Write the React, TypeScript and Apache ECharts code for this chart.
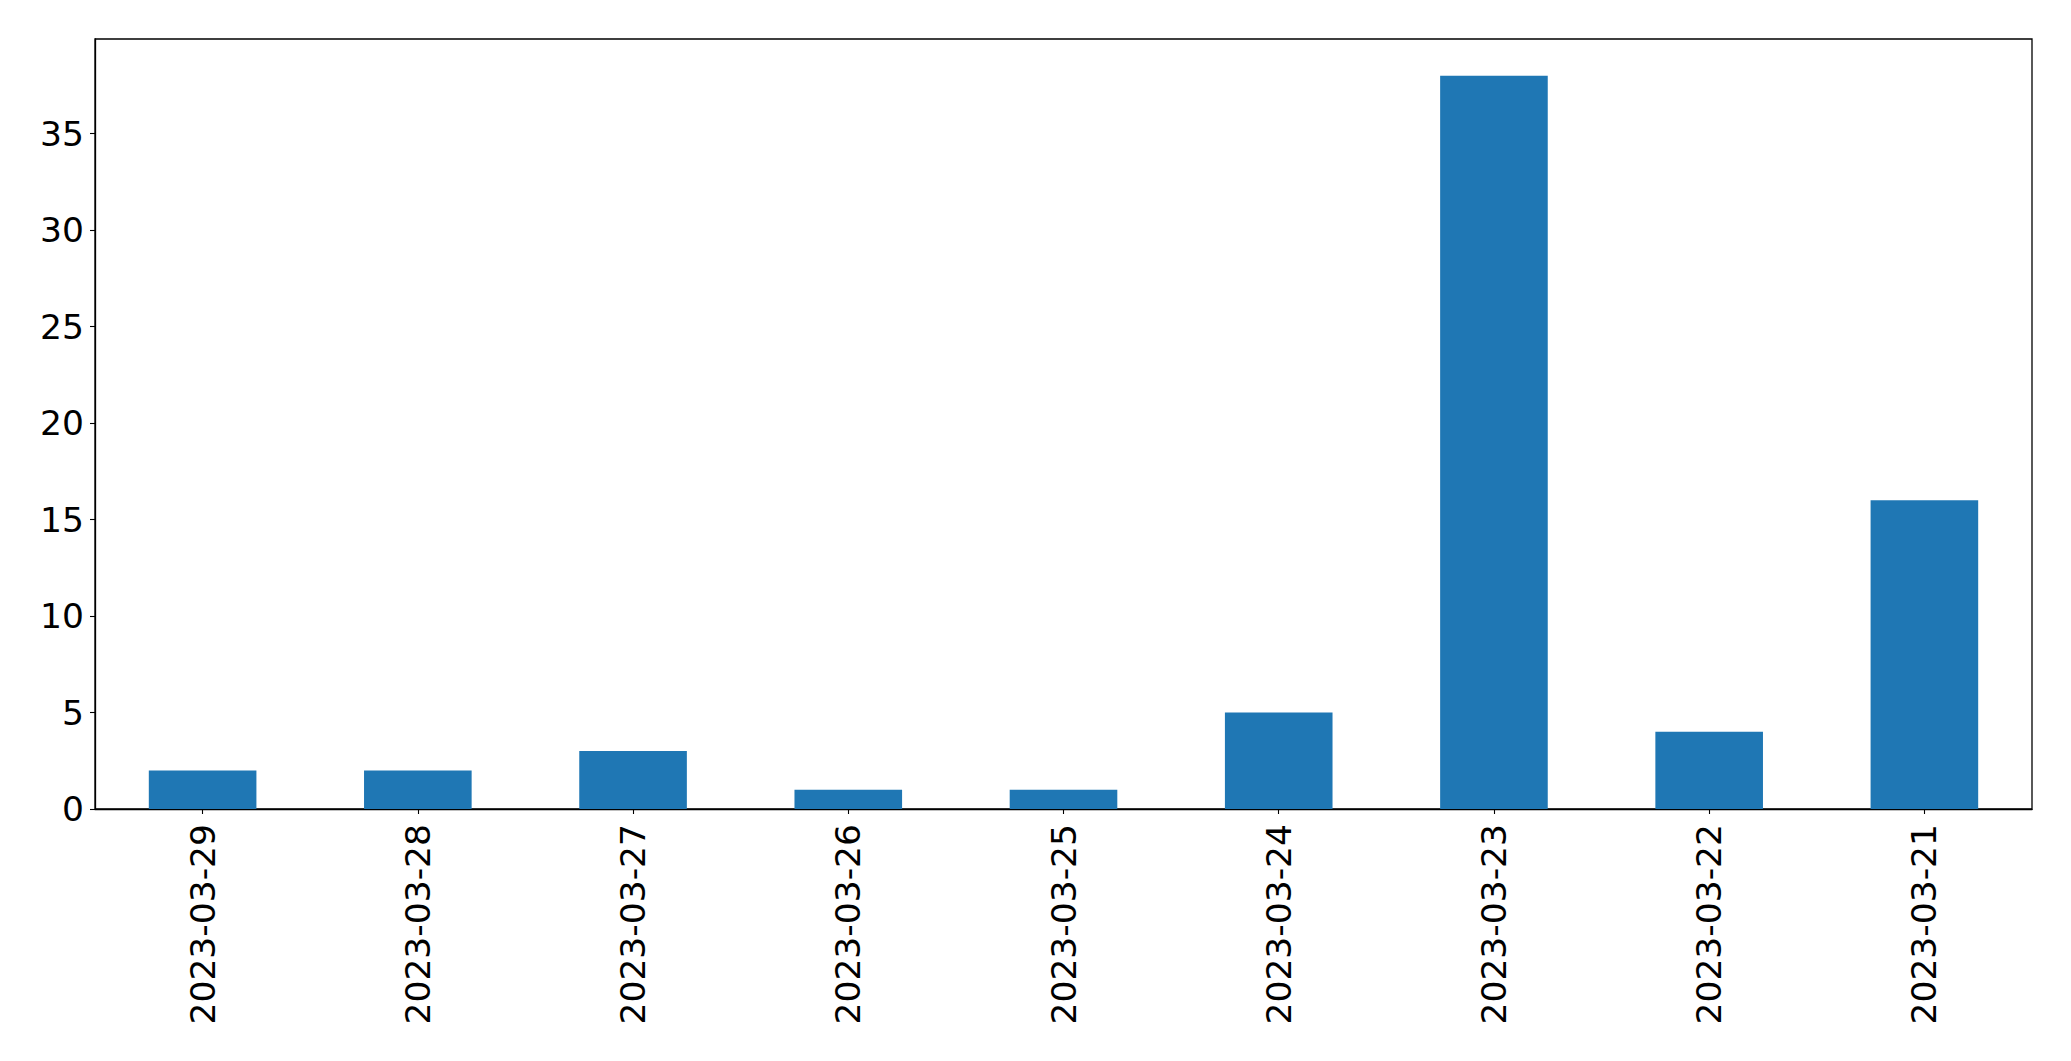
import React, { useEffect, useRef } from "react";
import * as echarts from "echarts";

const categories = [
  "2023-03-29",
  "2023-03-28",
  "2023-03-27",
  "2023-03-26",
  "2023-03-25",
  "2023-03-24",
  "2023-03-23",
  "2023-03-22",
  "2023-03-21",
];
const counts = [2, 2, 3, 1, 1, 5, 38, 4, 16];
const yTicks = [0, 5, 10, 15, 20, 25, 30, 35];

export default function App() {
  const ref = useRef<HTMLDivElement>(null);
  useEffect(() => {
    if (!ref.current) return;
    const chart = echarts.init(ref.current, null, { renderer: "svg" });
    const font = "DejaVu Sans";
    chart.setOption({
      animation: false,
      backgroundColor: "#ffffff",
      grid: {
        left: 95,
        top: 39,
        right: 39,
        bottom: 252,
        show: true,
        borderColor: "#000000",
        borderWidth: 1.3,
        backgroundColor: "transparent",
        containLabel: false,
      },
      xAxis: {
        type: "category",
        data: categories,
        axisLine: { show: true, lineStyle: { color: "#000", width: 1.3 } },
        axisTick: { show: true, alignWithLabel: true, length: 5, lineStyle: { color: "#000", width: 1.1 } },
        axisLabel: {
          rotate: 90,
          fontSize: 34.5,
          fontFamily: font,
          color: "#000",
          margin: 15,
        },
        splitLine: { show: false },
      },
      yAxis: {
        type: "value",
        min: 0,
        max: 39.9,
        interval: 5,
        axisLine: { show: true, lineStyle: { color: "#000", width: 1.3 } },
        axisTick: { show: true, length: 5, customValues: yTicks, lineStyle: { color: "#000", width: 1.1 } },
        axisLabel: {
          fontSize: 34.5,
          fontFamily: font,
          color: "#000",
          margin: 11,
          customValues: yTicks,
        },
        splitLine: { show: false },
      },
      series: [
        {
          type: "bar",
          data: counts,
          barWidth: "50%",
          itemStyle: { color: "#1f77b4" },
        },
      ],
    });
    return () => chart.dispose();
  }, []);
  return (
    <div
      ref={ref}
      style={{ position: "absolute", left: 0, top: 0, width: 2071, height: 1061 }}
    />
  );
}
